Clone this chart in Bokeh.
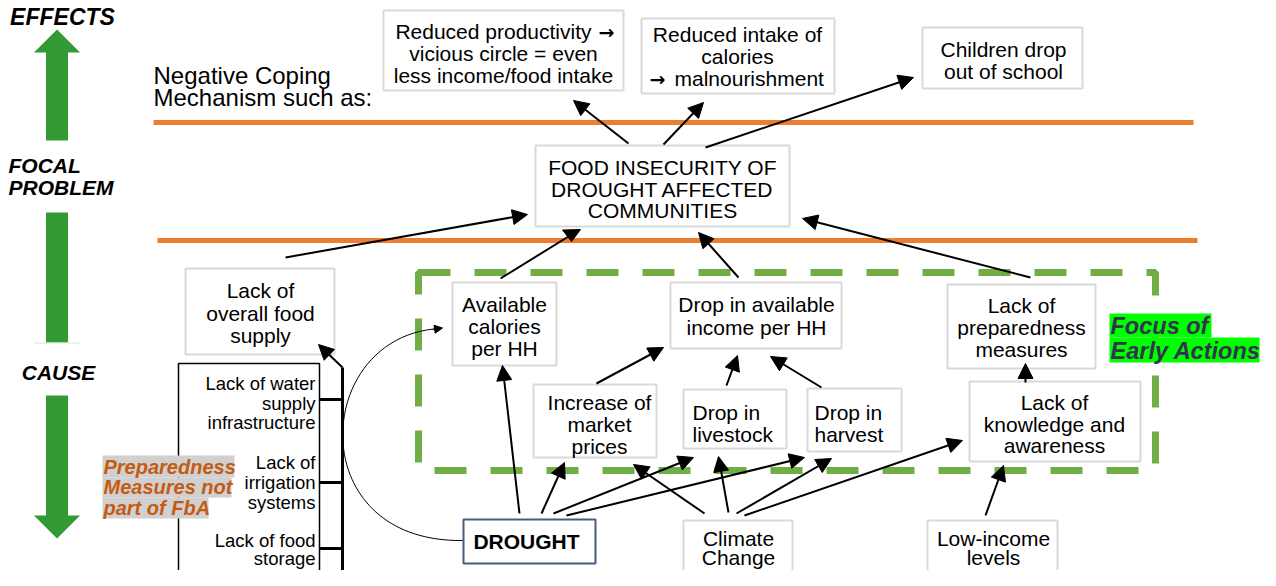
from bokeh.plotting import figure
from bokeh.models import Range1d, ColumnDataSource, Arrow, NormalHead
from bokeh.core.properties import value
from bokeh.embed import file_html
from bokeh.resources import INLINE

FONT = value("Liberation Sans")

# ---------------- content ----------------
effect_labels = [
    ["Reduced productivity", "vicious circle = even", "less income/food intake"],
    ["Reduced intake of", "calories", "malnourishment"],
    ["Children drop", "out of school"],
]
arrow_glyph = "\u2192"
focal_label = ["FOOD INSECURITY OF", "DROUGHT AFFECTED", "COMMUNITIES"]
cause_labels = [
    ["Lack of", "overall food", "supply"],
    ["Available", "calories", "per HH"],
    ["Drop in available", "income per HH"],
    ["Lack of", "preparedness", "measures"],
    ["Increase of", "market", "prices"],
    ["Lack of", "knowledge and", "awareness"],
    ["Climate", "Change"],
    ["Low-income", "levels"],
]
left_cause_labels = [["Drop in", "livestock"], ["Drop in", "harvest"]]
root_label = "DROUGHT"
infra_labels = [
    ["Lack of water", "supply", "infrastructure"],
    ["Lack of", "irrigation", "systems"],
    ["Lack of food", "storage"],
]
coping_label = ["Negative Coping", "Mechanism such as:"]
levels = ["EFFECTS", "FOCAL", "PROBLEM", "CAUSE"]
prep_note = ["Preparedness", "Measures not", "part of FbA"]
focus_note = ["Focus of", "Early Actions"]

# ---------------- layout (pixel positions) ----------------
effect_boxes = [(383, 10, 623, 90), (641, 18, 834, 93), (922, 27, 1082, 88)]
effect_text = [(503, 31, 22), (737, 34, 22), (1003, 49, 22)]
focal_box = (535, 145, 789, 226)
focal_text = (662, 167, 21.5)
cause_boxes = [(185, 268, 334, 354), (452, 282, 556, 365), (670, 282, 841, 348),
               (947, 284, 1095, 368), (533, 384, 656, 457), (969, 381, 1140, 461),
               (683, 520, 792, 583), (927, 520, 1057, 578)]
cause_text = [(260, 290, 22.5), (504, 304, 22), (756, 304, 22.5), (1021, 305, 22),
              (599, 402, 22), (1054, 402, 21.5), (738, 538, 19), (993, 538, 19)]
left_boxes = [(683, 389, 786, 448), (807, 388, 901, 451)]
left_text = [(692, 412, 21.5), (814, 412, 21.5)]
root_box = (463, 519, 595, 563)
infra_box = (178, 363, 319, 600)
infra_text = [(315, 383, 19.5), (315, 462, 20), (315, 540, 18)]
infra_conn = [399, 482, 548]

arrows = dict(
    x0=[628, 663, 705, 285, 738, 1030, 596, 726, 821, 1025, 519, 541, 553, 566,
        704, 728, 736, 744, 985, 342],
    y0=[143, 144, 147, 257, 277, 277, 383, 385, 387, 382, 513, 513, 513, 515,
        513, 512, 513, 515, 515, 367],
    x1=[573, 703, 913, 527, 698, 802, 663, 737, 770, 1025, 502, 564, 693, 804,
        633, 718, 831, 962, 1003, 318],
    y1=[100, 102, 77, 214, 232, 218, 347, 355, 356, 363, 365, 462, 457, 457,
        464, 456, 458, 440, 465, 344],
)

GREEN = "#339933"
ORANGE = "#ED7D31"
BOXLINE = "#D9D9D9"

p = figure(width=1260, height=570, x_range=Range1d(0, 1260), y_range=Range1d(570, 0),
           output_backend="svg", toolbar_location=None, min_border=0)
p.xaxis.visible = False
p.yaxis.visible = False
p.grid.visible = False
p.outline_line_color = None
p.background_fill_color = "white"


def boxes(bs, color=BOXLINE, width=2.0):
    p.quad(left=[b[0] for b in bs], right=[b[2] for b in bs],
           top=[b[1] for b in bs], bottom=[b[3] for b in bs],
           fill_color="white", line_color=color, line_width=width)


def lines(lbls, anchors, align="center", size="21px", style="normal", color="black"):
    xs, ys, ts = [], [], []
    for lab, (x, y, step) in zip(lbls, anchors):
        for i, t in enumerate(lab):
            xs.append(x)
            ys.append(y + i * step)
            ts.append(t)
    p.text(x=xs, y=ys, text=ts, text_font=FONT, text_font_size=size,
           text_align=align, text_baseline="middle", text_font_style=style,
           text_color=color)


# green side arrows
p.patch(x=[56.5, 79.5, 67.5, 67.5, 45.5, 45.5, 33.5], y=[29, 52, 52, 140, 140, 52, 52],
        fill_color=GREEN, line_color=None)
p.quad(left=[45.5], right=[67.5], top=[212], bottom=[342], fill_color=GREEN, line_color=None)
p.segment(x0=[33.5], y0=[342.5], x1=[79.5], y1=[342.5], line_color="#d5ebd5", line_width=1)
p.patch(x=[45.5, 67.5, 67.5, 79.5, 56.5, 33.5, 45.5], y=[395, 395, 515, 515, 538, 515, 515],
        fill_color=GREEN, line_color=None)

p.text(x=[62], y=[16], text=[levels[0]], text_font=FONT, text_font_size="23px",
       text_font_style="bold italic", text_align="center", text_baseline="middle")
p.text(x=[8, 8], y=[165, 187], text=levels[1:3], text_font=FONT, text_font_size="21px",
       text_font_style="bold italic", text_align="left", text_baseline="middle")
p.text(x=[58], y=[372], text=[levels[3]], text_font=FONT, text_font_size="21px",
       text_font_style="bold italic", text_align="center", text_baseline="middle")

# orange separators
p.segment(x0=[153, 157], y0=[122, 240], x1=[1193, 1197], y1=[122, 240],
          line_color=ORANGE, line_width=5)

# green dashed focus frame
p.quad(left=[418], right=[1155], top=[272], bottom=[470], fill_color=None,
       line_color="#70AD47", line_width=7, line_dash="32 24")

# negative coping text
lines([coping_label], [(153, 75, 22)], align="left", size="24px")

# effect boxes (first line of box 1 and last line of box 2 carry an arrow symbol)
boxes(effect_boxes)
lines([effect_labels[0][:1]], [(591, 31, 22)], align="right")
lines([effect_labels[0][1:]], [(503, 53, 22)])
lines([effect_labels[1][:2]], [(737, 34, 22)])
lines([effect_labels[1][2:]], [(674, 78, 22)], align="left")
lines([effect_labels[2]], [effect_text[2]])
p.text(x=[598, 649], y=[31, 78], text=[arrow_glyph, arrow_glyph], text_font=value("DejaVu Sans"),
       text_font_size="19px", text_font_style="bold", text_align="left", text_baseline="middle")

boxes([focal_box])
lines([focal_label], [focal_text])
boxes(cause_boxes)
lines(cause_labels, cause_text)
boxes(left_boxes)
lines(left_cause_labels, left_text, align="left")
boxes([root_box], color="#4A5B7C", width=2)
p.text(x=[526], y=[541], text=[root_label], text_font=FONT, text_font_size="21px",
       text_font_style="bold", text_align="center", text_baseline="middle")

# infrastructure box
p.quad(left=[infra_box[0]], right=[infra_box[2]], top=[infra_box[1]], bottom=[infra_box[3]],
       fill_color="white", line_color="black", line_width=1.5)
lines(infra_labels, infra_text, align="right", size="18.5px")
p.segment(x0=[319] * 3, y0=infra_conn, x1=[342] * 3, y1=infra_conn, line_color="black", line_width=3)
p.segment(x0=[342], y0=[600], x1=[342], y1=[367], line_color="black", line_width=3)

# highlighted notes
p.quad(left=[102, 102, 102], right=[234, 231, 208], top=[455, 477, 497], bottom=[477, 497, 518],
       fill_color="#D0D0D0", line_color=None)
lines([prep_note], [(103, 466, 20.5)], align="left", size="20px", style="bold italic",
      color="#C55A11")
p.quad(left=[1109, 1109], right=[1211, 1259], top=[313, 337], bottom=[337, 362],
       fill_color="#00FF00", line_color=None)
lines([focus_note], [(1110, 325, 25)], align="left", size="23.5px", style="bold italic",
      color="#33334D")

# arrows
src = ColumnDataSource(arrows)
p.add_layout(Arrow(source=src, x_start="x0", y_start="y0", x_end="x1", y_end="y1",
                   line_width=2, line_color="black",
                   end=NormalHead(size=15, fill_color="black", line_color="black", line_width=1)))
# calories -> focal (head drawn pointing down as in the original)
p.segment(x0=[500], y0=[278], x1=[568], y1=[236], line_color="black", line_width=2)
p.patch(x=[562, 580, 571], y=[229.5, 229, 241], fill_color="black", line_color="black")

# curved drought -> calories arrow
p.bezier(x0=[462], y0=[540], x1=[440], y1=[328], cx0=[300], cy0=[542], cx1=[312], cy1=[334],
         line_color="black", line_width=1)
p.add_layout(Arrow(x_start=432, y_start=329, x_end=442, y_end=327.5, line_width=1,
                   end=NormalHead(size=8, fill_color="black", line_color="black", line_width=1)))

open("out.html", "w").write(file_html(p, INLINE))
